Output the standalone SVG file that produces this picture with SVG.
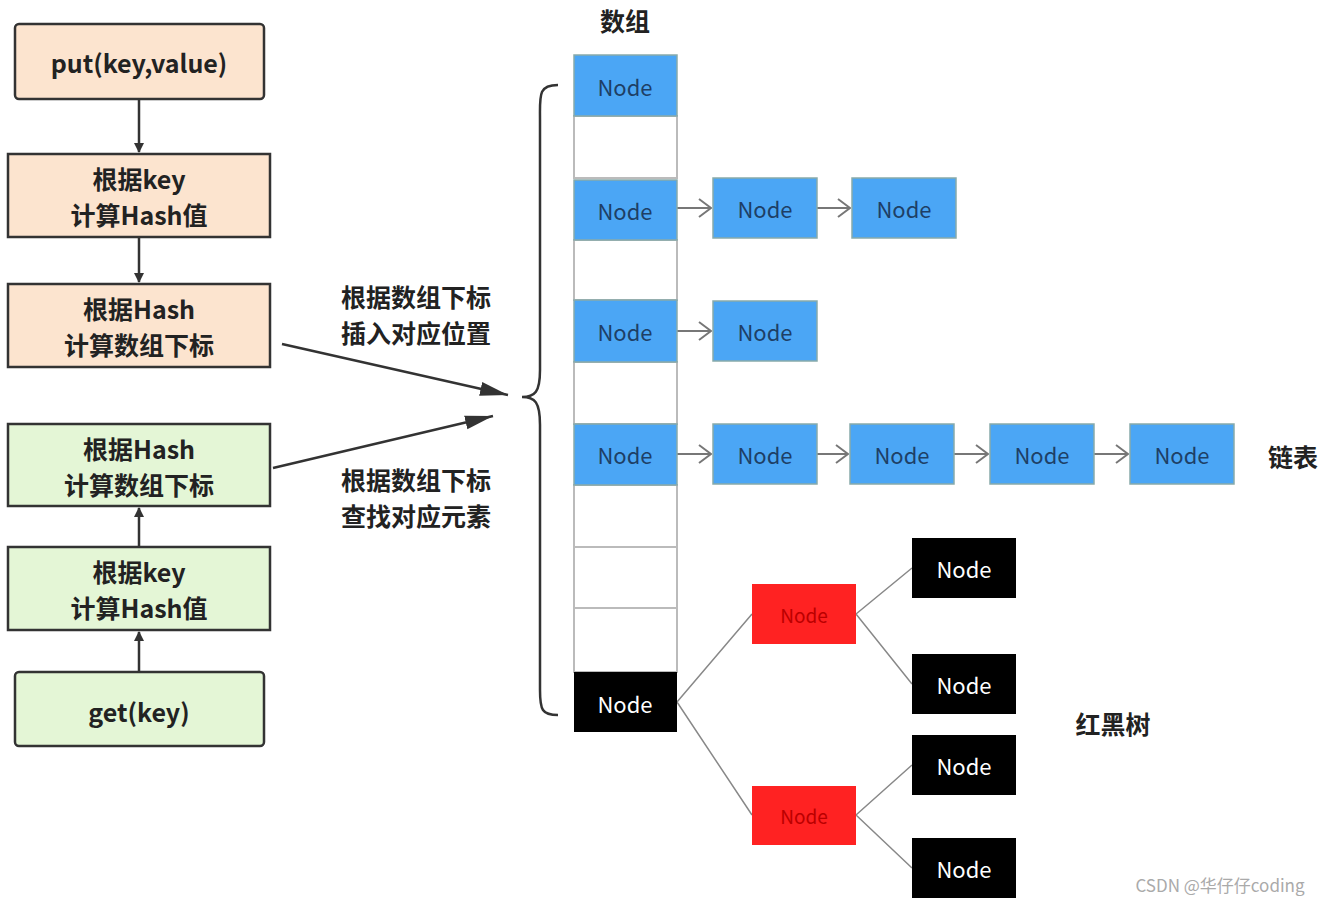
<svg xmlns="http://www.w3.org/2000/svg" width="1328" height="903" viewBox="0 0 1328 903">
<style>
text{font-family:"Noto Sans CJK SC","Noto Sans",sans-serif;text-anchor:middle;dominant-baseline:central}
.o{fill:#fce4cf;stroke:#333;stroke-width:2.5}
.g{fill:#e4f6d6;stroke:#333;stroke-width:2.5}
.lt{font-size:25px;font-weight:bold;fill:#222}
.b{fill:#4ba6f5;stroke:#8aa;stroke-width:1.5}
.e{fill:#fff;stroke:#bbb;stroke-width:2}
.k{fill:#000}
.r{fill:#f22}
.nt{font-size:22px;fill:#1e3f66}
.wt{font-size:22px;fill:#fff}
.rt{font-size:19px;fill:#b00}
.lab{font-size:25px;font-weight:bold;fill:#222}
.ch{stroke:#777;stroke-width:2;fill:none}
.tr{stroke:#888;stroke-width:1.5;fill:none}
</style>
<defs>
<marker id="a" markerWidth="10" markerHeight="10" refX="9" refY="5" orient="auto" markerUnits="userSpaceOnUse"><path d="M0,0L10,5L0,10z" fill="#333"/></marker>
<marker id="ba" markerWidth="30" markerHeight="20" refX="28" refY="10" orient="auto" markerUnits="userSpaceOnUse"><path d="M0,3L28,10L0,17z" fill="#333"/></marker>
<marker id="c" markerWidth="14" markerHeight="20" refX="13" refY="10" orient="auto" markerUnits="userSpaceOnUse"><path d="M1,1L13,10L1,19" fill="none" stroke="#777" stroke-width="2"/></marker>
</defs>
<g id="put"><rect class="o" x="15" y="24" width="249" height="75" rx="4"/><text class="lt" x="139" y="62">put(key,value)</text></g>
<g id="hash1"><rect class="o" x="8" y="154" width="262" height="83"/><text class="lt" x="139" y="178">根据key</text><text class="lt" x="139" y="214">计算Hash值</text></g>
<g id="idx1"><rect class="o" x="8" y="284" width="262" height="83"/><text class="lt" x="139" y="308">根据Hash</text><text class="lt" x="139" y="344">计算数组下标</text></g>
<g id="idx2"><rect class="g" x="8" y="424" width="262" height="82"/><text class="lt" x="139" y="448">根据Hash</text><text class="lt" x="139" y="484">计算数组下标</text></g>
<g id="hash2"><rect class="g" x="8" y="547" width="262" height="83"/><text class="lt" x="139" y="571">根据key</text><text class="lt" x="139" y="607">计算Hash值</text></g>
<g id="get"><rect class="g" x="15" y="672" width="249" height="74" rx="4"/><text class="lt" x="139" y="711">get(key)</text></g>
<g id="labels">
<text class="lab" x="625" y="20">数组</text>
<text class="lab" x="416" y="296">根据数组下标</text><text class="lab" x="416" y="332">插入对应位置</text>
<text class="lab" x="416" y="479">根据数组下标</text><text class="lab" x="416" y="515">查找对应元素</text>
<text class="lab" x="1293" y="456">链表</text>
<text class="lab" x="1113" y="723">红黑树</text>
<text x="1220" y="884" style="font-size:17px;fill:#aaa">CSDN @华仔仔coding</text>
</g>
<g id="connectors">
<line x1="139" y1="99" x2="139" y2="152" stroke="#333" stroke-width="2.5" marker-end="url(#a)"/>
<line x1="139" y1="237" x2="139" y2="282" stroke="#333" stroke-width="2.5" marker-end="url(#a)"/>
<line x1="139" y1="547" x2="139" y2="508" stroke="#333" stroke-width="2.5" marker-end="url(#a)"/>
<line x1="139" y1="672" x2="139" y2="632" stroke="#333" stroke-width="2.5" marker-end="url(#a)"/>
<line x1="282" y1="344" x2="508" y2="395" stroke="#333" stroke-width="2.5" marker-end="url(#ba)"/>
<line x1="273" y1="468" x2="493" y2="416" stroke="#333" stroke-width="2.5" marker-end="url(#ba)"/>
<path d="M558,85 C538,85 540,95 540,120 L540,370 C540,392 535,397 522,397 C535,397 540,402 540,425 L540,690 C540,710 542,715 558,715" fill="none" stroke="#333" stroke-width="2.5"/>
<line class="ch" x1="677" y1="208" x2="711" y2="208" marker-end="url(#c)"/>
<line class="ch" x1="817" y1="208" x2="850" y2="208" marker-end="url(#c)"/>
<line class="ch" x1="677" y1="331" x2="711" y2="331" marker-end="url(#c)"/>
<line class="ch" x1="677" y1="454" x2="711" y2="454" marker-end="url(#c)"/>
<line class="ch" x1="817" y1="454" x2="848" y2="454" marker-end="url(#c)"/>
<line class="ch" x1="954" y1="454" x2="988" y2="454" marker-end="url(#c)"/>
<line class="ch" x1="1094" y1="454" x2="1128" y2="454" marker-end="url(#c)"/>
<path class="tr" d="M677,702L752,614M677,702L752,815M856,614L912,568M856,614L912,684M856,815L912,765M856,815L912,868"/>
</g>
<g id="array">
<rect class="e" x="574" y="116" width="103" height="62"/>
<rect class="e" x="574" y="240" width="103" height="60"/>
<rect class="e" x="574" y="362" width="103" height="62"/>
<rect class="e" x="574" y="485" width="103" height="62"/>
<rect class="e" x="574" y="547" width="103" height="61"/>
<rect class="e" x="574" y="608" width="103" height="64"/>
</g>
<g id="a0"><rect class="b" x="574" y="55" width="103" height="61"/><text class="nt" x="625" y="86">Node</text></g>
<g id="a2"><rect class="b" x="574" y="180" width="103" height="60"/><text class="nt" x="625" y="210">Node</text></g>
<g id="a4"><rect class="b" x="574" y="300" width="103" height="62"/><text class="nt" x="625" y="331">Node</text></g>
<g id="a6"><rect class="b" x="574" y="424" width="103" height="61"/><text class="nt" x="625" y="454">Node</text></g>
<g id="a10"><rect class="k" x="574" y="672" width="103" height="60"/><text class="wt" x="625" y="703">Node</text></g>
<g id="l1a"><rect class="b" x="713" y="178" width="104" height="60"/><text class="nt" x="765" y="208">Node</text></g>
<g id="l1b"><rect class="b" x="852" y="178" width="104" height="60"/><text class="nt" x="904" y="208">Node</text></g>
<g id="l2a"><rect class="b" x="713" y="301" width="104" height="60"/><text class="nt" x="765" y="331">Node</text></g>
<g id="l3a"><rect class="b" x="713" y="424" width="104" height="60"/><text class="nt" x="765" y="454">Node</text></g>
<g id="l3b"><rect class="b" x="850" y="424" width="104" height="60"/><text class="nt" x="902" y="454">Node</text></g>
<g id="l3c"><rect class="b" x="990" y="424" width="104" height="60"/><text class="nt" x="1042" y="454">Node</text></g>
<g id="l3d"><rect class="b" x="1130" y="424" width="104" height="60"/><text class="nt" x="1182" y="454">Node</text></g>
<g id="r1"><rect class="r" x="752" y="584" width="104" height="60"/><text class="rt" x="804" y="614">Node</text></g>
<g id="r2"><rect class="r" x="752" y="786" width="104" height="59"/><text class="rt" x="804" y="815">Node</text></g>
<g id="k1"><rect class="k" x="912" y="538" width="104" height="60"/><text class="wt" x="964" y="568">Node</text></g>
<g id="k2"><rect class="k" x="912" y="654" width="104" height="60"/><text class="wt" x="964" y="684">Node</text></g>
<g id="k3"><rect class="k" x="912" y="735" width="104" height="60"/><text class="wt" x="964" y="765">Node</text></g>
<g id="k4"><rect class="k" x="912" y="838" width="104" height="60"/><text class="wt" x="964" y="868">Node</text></g>
</svg>
